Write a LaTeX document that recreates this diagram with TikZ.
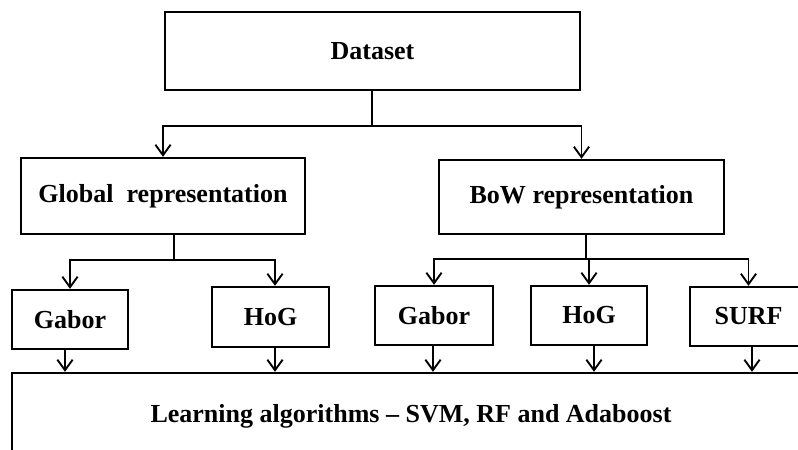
\documentclass[tikz,border=0pt]{standalone}
\usepackage{fontspec}
\setmainfont{Liberation Serif}
\usetikzlibrary{arrows.meta}

\tikzset{
  block/.style={draw,line width=2pt,inner sep=0pt,align=center,
    font=\fontsize{22.2}{26}\selectfont\bfseries},
  link/.style={line width=1.6pt},
  arr/.style={link,-{Straight Barb[length=9pt,width=13pt,line width=1.6pt]}}
}

\begin{document}
\begin{tikzpicture}[x=0.03cm,y=-0.03cm]
  \clip (0,0) rectangle (798,450);
  \useasboundingbox (0,0) rectangle (798,450);

  % Top level
  \node[block,minimum width=415*0.03cm,minimum height=78*0.03cm] (dataset) at (372.5,51) {Dataset};

  % Representations
  \node[block,minimum width=284*0.03cm,minimum height=76*0.03cm] (global) at (163,196) {Global\ \ representation};
  \node[block,minimum width=285*0.03cm,minimum height=74*0.03cm] (bow) at (581.5,197) {BoW representation};

  % Descriptors
  \node[block,minimum width=116*0.03cm,minimum height=59*0.03cm] (gaborG) at (70,319.5) {Gabor};
  \node[block,minimum width=117*0.03cm,minimum height=60*0.03cm] (hogG) at (270.5,317) {HoG};
  \node[block,minimum width=118*0.03cm,minimum height=59*0.03cm] (gaborB) at (434,315.5) {Gabor};
  \node[block,minimum width=116*0.03cm,minimum height=59*0.03cm] (hogB) at (589,315.5) {HoG};
  \node[block,minimum width=117*0.03cm,minimum height=59*0.03cm] (surf) at (748.5,316.5) {SURF};

  % Classifiers (runs past the picture edge)
  \node[block,minimum width=798*0.03cm,minimum height=86*0.03cm] (learn) at (411,416) {Learning algorithms -- SVM, RF and Adaboost};

  % Split points
  \coordinate (dsplit) at (372,126);
  \coordinate (gsplit) at (174,260);
  \coordinate (bsplit) at (586,259);

  % Dataset to representations
  \draw[link] (dataset.south -| dsplit) -- (dsplit);
  \draw[arr] (dsplit) -| (global.north);
  \draw[arr] (dsplit) -| (bow.north);

  % Global representation to descriptors
  \draw[link] (global.south -| gsplit) -- (gsplit);
  \draw[arr] (gsplit) -| (gaborG.north);
  \draw[arr] (gsplit) -| (275,0 |- hogG.north);

  % BoW representation to descriptors
  \draw[link] (bow.south -| bsplit) -- (bsplit);
  \draw[arr] (bsplit) -| (gaborB.north);
  \draw[arr] (bsplit) -| (hogB.north);
  \draw[arr] (bsplit) -| (surf.north);

  % Descriptors to learning algorithms
  \foreach \d/\x in {gaborG/65,hogG/275,gaborB/433,hogB/594,surf/752}
    \draw[arr] (\x,0 |- \d.south) -- (\x,0 |- learn.north);
\end{tikzpicture}
\end{document}
